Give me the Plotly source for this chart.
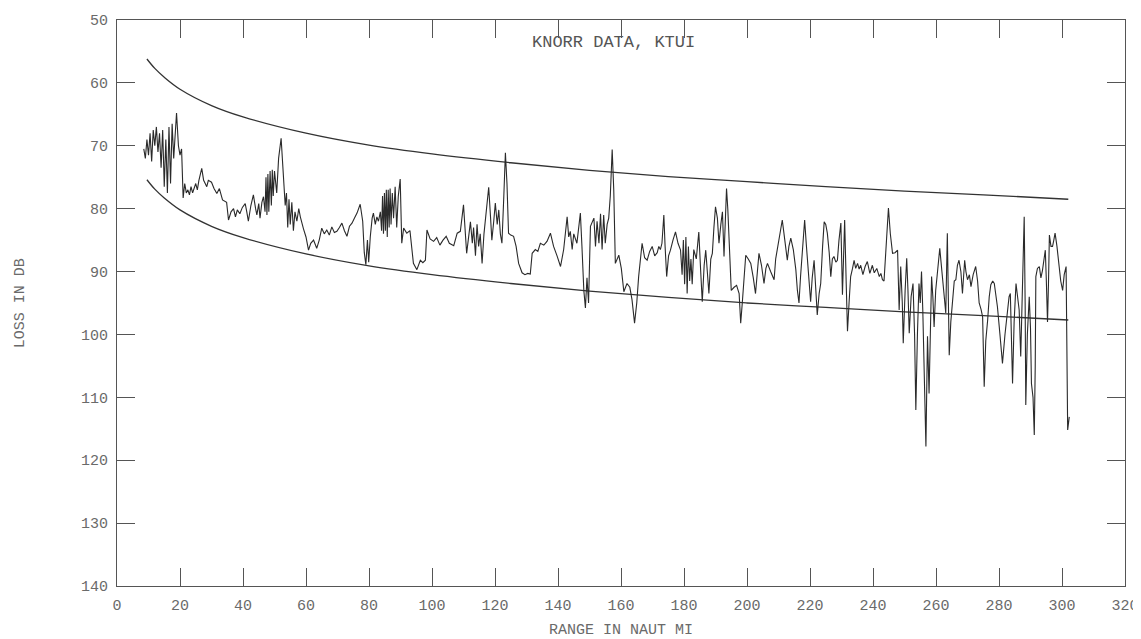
import plotly.graph_objects as go

# ---- data ----
range_nmi = [
    8.5, 9.0, 9.5, 10.0, 10.5, 11.0, 11.5, 12.0, 12.5, 13.0, 13.5, 14.0, 14.5, 15.0, 15.5, 16.0,
    16.5, 17.0, 17.5, 18.0, 18.9, 19.5, 20.0, 20.5, 21.0,
    21.5, 22.0, 22.5, 23.0, 23.5, 24.0, 25.0, 25.5, 26.0, 26.9, 27.5, 28.5, 29.0, 30.0, 30.8,
    31.7, 32.5, 33.5, 34.2, 34.8, 35.4, 36.2, 37.0, 37.6, 38.2, 39.0, 39.8, 40.7, 41.2, 41.7,
    42.5, 43.3, 44.0, 44.4, 45.0, 45.4, 46.0, 46.5, 47.0, 47.3, 47.6, 47.9, 48.2, 48.6, 49.0,
    49.3, 49.6, 50.0, 50.7, 51.3, 52.1, 52.9,
    53.4, 53.8, 54.2, 54.6, 55.0, 55.5, 56.0, 56.5, 57.1, 57.7, 58.2, 59.2, 60.0, 60.8, 61.5,
    62.4, 63.4, 64.2, 65.0, 65.8, 66.6, 67.4, 68.2, 69.0, 69.8, 70.6, 71.4, 72.2, 73.0, 73.8,
    74.6, 75.4, 76.2, 77.2,
    78.0, 78.5, 79.0, 79.5, 79.9, 80.4, 81.0, 81.4, 82.0, 82.5, 83.0, 83.6, 84.0, 84.3, 84.6,
    84.9, 85.2, 85.5, 85.8, 86.1, 86.4, 86.7, 87.0, 87.4, 87.8, 88.3, 88.8, 89.3, 89.9, 90.4,
    91.0, 92.0, 93.0, 94.1, 95.2, 96.3, 97.1, 97.9, 98.4, 99.4, 100.5, 101.5, 102.5, 103.5,
    104.5, 105.5, 106.9, 108.0, 109.0, 110.0, 111.0, 112.2, 112.8, 113.2, 113.8, 114.3, 114.8,
    115.3, 115.9, 116.5, 117.2, 118.0, 118.6, 119.0, 119.6, 120.1, 120.7, 121.2, 121.7, 122.2,
    122.8, 123.3, 123.8, 124.3, 125.0, 125.9, 126.7, 127.5, 128.6, 129.5, 130.4, 131.2, 131.8,
    132.8, 133.6, 134.4, 135.5, 136.5, 137.6, 138.6, 139.7, 140.8, 141.8, 142.9, 143.4, 143.9,
    144.5, 145.0, 146.0, 147.1, 147.6, 148.2, 148.7, 149.2, 149.7, 150.3, 151.4, 151.9, 152.4,
    153.0, 153.5, 154.0, 154.5, 155.0, 155.6, 156.1, 156.6, 157.2, 157.7, 158.2, 159.3, 160.1,
    160.9, 161.9, 162.8, 163.5, 164.3, 165.0, 165.6, 166.2, 166.7,
    167.5, 168.3, 169.1, 169.9, 170.7, 171.5, 172.0, 172.5, 173.0, 173.6, 174.0, 174.5, 175.1,
    175.7, 176.5, 177.3, 178.1, 178.9, 179.4, 179.8, 180.2, 180.6, 181.0, 181.4, 181.8, 182.2,
    182.6, 183.1, 183.9, 184.7, 185.3, 185.8, 186.4, 186.9, 187.4, 187.9, 188.5, 189.0, 189.5,
    190.0, 190.6, 191.1, 191.7, 192.2, 192.7, 193.1, 193.5, 193.9, 194.3, 195.0, 195.9, 196.7,
    197.5, 198.0, 198.5, 199.0, 199.6, 200.4, 201.2, 202.0, 202.7, 203.3, 203.8, 204.6, 205.4,
    206.0, 206.5, 207.5, 208.6, 209.1, 209.6, 210.4, 211.2, 212.0, 212.8, 213.3, 213.9, 214.7,
    215.5, 216.0, 216.5, 217.0, 217.6, 218.3, 218.8, 219.2, 219.7, 220.2, 220.7, 221.3, 221.8,
    222.3, 222.9, 223.4, 224.0, 224.5, 225.0, 225.5, 226.1, 226.6, 227.1, 227.6, 228.2, 228.7,
    229.2, 229.8, 230.3, 230.7, 231.0, 231.5, 231.9, 232.4, 232.9, 233.5, 234.0, 234.5, 235.1,
    235.6, 236.1, 236.8, 237.5, 238.2, 239.0, 239.8, 240.4, 241.2, 242.0, 242.5, 243.0, 243.5,
    244.2, 244.9, 245.5, 246.2, 247.0, 247.8, 248.3, 248.8, 249.3, 249.6, 250.2, 250.7, 251.1,
    251.5, 252.1, 252.7, 253.2, 253.6, 254.1, 254.6, 255.0, 255.4, 255.8, 256.2, 256.5, 256.8,
    257.3, 257.8, 258.2, 258.6, 259.0, 259.4, 259.9, 260.3, 260.8, 261.2, 261.6, 262.1, 262.6,
    263.1, 263.6, 264.2, 264.7, 265.2, 265.8, 266.3, 266.8, 267.3, 267.9, 268.4, 268.8, 269.1,
    269.5, 270.0, 270.6, 271.1, 271.8, 272.6, 273.2, 273.7, 274.3, 274.8, 275.3, 275.8, 276.4,
    276.9, 277.4, 278.0, 278.5, 279.0, 279.5, 280.3, 281.1, 281.9, 282.7, 283.2, 283.6, 284.0,
    284.3, 284.8, 285.4, 285.9, 286.4, 286.9, 287.4, 288.0, 288.3, 288.5, 289.0, 289.6, 290.0,
    290.3, 290.8, 291.2, 291.5, 291.7, 292.2, 292.8, 293.3, 293.8, 294.3, 294.7, 295.0, 295.4,
    295.7, 296.0, 296.5, 297.0, 297.4, 297.8, 298.4, 299.1, 299.6, 300.2, 300.7, 301.3, 301.8,
    302.3,
]
loss_db = [
    70.5, 72.0, 69.0, 71.5, 68.0, 72.5, 67.5, 70.0, 67.0, 71.0, 68.0, 73.5, 67.5, 76.5, 69.0, 77.5,
    67.0, 76.0, 66.5, 72.0, 64.8, 70.0, 71.5, 70.5, 78.3,
    76.0, 77.5, 77.0, 77.8, 76.5, 77.5, 76.0, 77.0, 75.5, 73.6, 75.5, 76.5, 75.5, 75.8, 76.8,
    77.6, 76.8, 78.6, 78.8, 79.0, 81.8, 80.5, 80.0, 81.3, 80.2, 80.8, 79.8, 79.2, 80.5, 82.0,
    79.5, 77.8, 80.0, 81.0, 79.2, 81.5, 79.0, 78.1, 80.5, 75.0, 81.0, 74.5, 80.5, 74.0, 79.5,
    73.8, 78.0, 74.0, 77.5, 72.0, 68.8, 75.4,
    79.5, 77.5, 83.0, 78.5, 82.5, 79.0, 83.5, 80.5, 82.0, 80.0, 81.3, 83.2, 84.5, 86.6, 85.5,
    85.0, 86.3, 85.0, 83.1, 84.0, 83.4, 84.2, 82.9, 83.8, 83.6, 83.0, 82.3, 83.5, 84.4, 82.8,
    82.3, 81.5, 80.7, 79.3,
    82.0, 87.0, 88.9, 85.0, 88.5, 84.5, 81.5, 80.7, 82.5, 81.3, 82.0, 80.5, 83.5, 78.0, 84.0,
    77.5, 83.5, 77.0, 84.5, 77.0, 83.0, 76.8, 82.5, 77.5, 81.5, 76.5, 83.0, 78.0, 75.3, 85.5,
    83.1, 83.9, 83.5, 88.7, 89.7, 88.2, 88.6, 88.2, 83.4, 84.8, 85.2, 84.6, 85.8, 85.0,
    84.4, 85.5, 85.9, 83.9, 83.6, 79.4, 87.1, 82.1, 85.5, 83.0, 87.5, 82.5, 86.0,
    84.0, 88.7, 84.0, 80.5, 76.6, 81.5, 85.0, 82.0, 79.1, 82.5, 80.2, 84.0, 85.5,
    78.0, 71.1, 76.0, 83.9, 84.2, 84.4, 86.0, 88.7, 90.2, 90.5, 90.3, 90.4, 87.1,
    86.5, 86.8, 85.5, 85.8, 85.2, 83.9, 86.0, 87.5, 89.2, 86.5, 81.3, 84.5, 83.6,
    86.5, 84.0, 85.5, 80.7, 86.0, 93.0, 95.8, 91.0, 95.0, 82.8, 81.5, 86.0, 82.0,
    85.5, 80.8, 86.5, 81.0, 85.5, 82.5, 81.5, 78.0, 70.6, 77.0, 88.7, 87.4, 89.5,
    93.2, 91.9, 92.5, 94.5, 98.2, 95.0, 90.8, 87.5, 85.5,
    87.8, 88.2, 86.8, 86.0, 87.5, 87.0, 86.0, 86.5, 85.5, 81.0, 86.0, 90.8, 87.5,
    86.6, 85.0, 83.7, 85.5, 86.6, 90.5, 85.0, 92.0, 84.5, 93.5, 86.0, 91.5, 88.0,
    92.0, 86.5, 88.0, 83.7, 90.0, 94.8, 89.0, 86.6, 90.0, 93.5, 88.0, 87.1, 83.0,
    79.7, 81.5, 85.5, 82.5, 80.5, 87.6, 82.0, 76.8, 80.0, 84.5, 93.0, 92.5, 92.2,
    93.5, 98.2, 95.0, 91.0, 87.4, 88.0, 88.7, 91.0, 93.5, 90.0, 87.1, 89.0, 91.9,
    89.5, 88.7, 90.0, 91.3, 88.0, 86.6, 84.5, 81.8, 85.0, 88.2, 86.0, 84.7, 86.5,
    89.7, 93.0, 95.0, 90.8, 86.0, 81.8, 85.5, 88.2, 92.0, 94.8, 91.0, 88.2, 92.5,
    96.9, 93.5, 91.9, 86.0, 82.1, 82.5, 83.9, 87.0, 90.8, 88.0, 87.6, 88.5, 88.2,
    85.0, 82.3, 93.7, 86.0, 81.8, 92.0, 99.5, 95.0, 90.8, 89.5, 88.2, 89.5, 88.7,
    89.6, 89.0, 90.5, 89.2, 88.4, 90.3, 89.0, 90.2, 89.5, 90.8, 90.3, 91.3, 91.5,
    86.0, 79.9, 84.0, 87.1, 87.0, 86.6, 96.1, 89.2, 95.0, 101.4, 93.0, 87.9, 93.0,
    99.8, 94.0, 91.9, 100.0, 112.0, 100.0, 91.9, 95.0, 90.0, 96.0, 106.7, 110.0, 117.8,
    100.3, 109.4, 100.0, 90.8, 94.0, 98.8, 93.0, 90.8, 88.0, 86.3, 88.5, 91.3, 94.0,
    96.6, 83.9, 103.3, 98.0, 95.0, 91.5, 91.3, 89.0, 88.2, 90.0, 93.5, 90.0, 88.2,
    90.0, 91.3, 90.5, 92.4, 90.5, 89.2, 91.5, 95.0, 96.0, 97.2, 108.3, 101.0, 97.7,
    94.0, 92.1, 91.5, 91.9, 93.5, 95.6, 100.0, 104.6, 100.0, 96.1, 94.0, 93.5, 100.0,
    107.8, 98.0, 91.9, 94.0, 96.1, 103.5, 92.0, 81.3, 95.0, 111.2, 100.0, 94.0, 99.0,
    107.8, 110.0, 116.0, 105.0, 90.8, 89.5, 89.2, 91.0, 89.8, 88.0, 86.6, 91.0, 98.0,
    92.0, 84.2, 86.0, 86.0, 85.0, 83.9, 86.0, 89.8, 91.5, 93.0, 90.5, 89.2, 115.2,
    113.1,
]

bound_x = [9.5, 12, 15, 20, 30, 40, 60, 80, 100, 125, 150, 175, 200, 225, 250, 275, 302]
upper_bound = [56.2, 57.7, 59.1, 61.0, 63.6, 65.4, 68.0, 69.9, 71.3, 72.7, 73.9, 74.9, 75.7,
               76.5, 77.2, 77.8, 78.5]
lower_bound = [75.4, 76.9, 78.3, 80.2, 82.8, 84.6, 87.2, 89.1, 90.5, 91.9, 93.1, 94.1, 95.0,
               95.7, 96.4, 97.0, 97.7]

x_ticks = list(range(0, 321, 20))
y_ticks = list(range(50, 141, 10))

FONT = "Liberation Mono"
AX = "#555555"
TXT = "#6a6a6a"

fig = go.Figure()
fig.add_trace(go.Scatter(x=bound_x, y=upper_bound, mode="lines", line=dict(color="#333333", width=1.3, shape="spline"),
                         showlegend=False, hoverinfo="skip"))
fig.add_trace(go.Scatter(x=bound_x, y=lower_bound, mode="lines", line=dict(color="#333333", width=1.3, shape="spline"),
                         showlegend=False, hoverinfo="skip"))
fig.add_trace(go.Scatter(x=range_nmi, y=loss_db, mode="lines", line=dict(color="#2a2a2a", width=1.1),
                         showlegend=False))

axis_common = dict(
    showgrid=False, zeroline=False, showline=True, linecolor=AX, linewidth=1.2,
    mirror="allticks", ticks="inside", ticklen=18, tickcolor=AX, tickwidth=1.2,
    tickfont=dict(family=FONT, size=15, color=TXT), automargin=False,
)

fig.update_layout(
    width=1133, height=631,
    margin=dict(l=109, r=16, t=12, b=53),
    paper_bgcolor="white", plot_bgcolor="white",
    xaxis=dict(range=[0, 320], tickvals=x_ticks, ticklabelstandoff=5, **axis_common),
    yaxis=dict(range=[140, 50], tickvals=y_ticks, ticklabelstandoff=5, **axis_common),
    annotations=[
        dict(x=157.5, y=53.5, xref="x", yref="y", text="KNORR DATA, KTUI", showarrow=False,
             font=dict(family=FONT, size=17, color="#555555")),
        dict(x=0.5, y=-0.078, xref="paper", yref="paper", text="RANGE IN NAUT MI", showarrow=False,
             font=dict(family=FONT, size=15, color=TXT), yanchor="middle"),
        dict(x=-0.096, y=0.5, xref="paper", yref="paper", text="LOSS IN DB", showarrow=False,
             textangle=-90, font=dict(family=FONT, size=15, color=TXT), xanchor="center"),
    ],
)

fig.write_html("out.html")
